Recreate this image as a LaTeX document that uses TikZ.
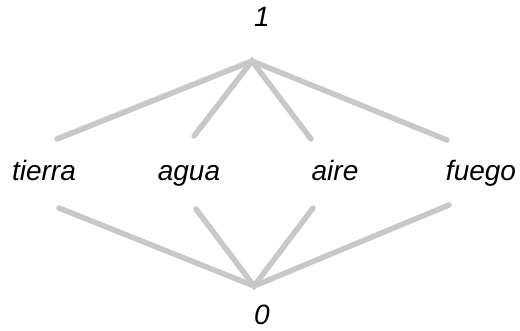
\documentclass[tikz,border=0pt]{standalone}
\usepackage{fontspec}
\setmainfont{Liberation Sans}
\begin{document}
\begin{tikzpicture}[x=1pt,y=-1pt,
  lbl/.style={font=\itshape\fontsize{28}{32}\selectfont, inner sep=0pt, text=black, anchor=base},
  edge/.style={draw={rgb,255:red,200;green,200;blue,200}, line width=5.5pt, line cap=round}]
\useasboundingbox (0,0) rectangle (520,330);
\node[lbl] (one) at (262,26) {1};
\node[lbl] (zero) at (262,324) {0};
\node[lbl] (tierra) at (44,180) {tierra};
\node[lbl] (agua) at (189,180) {agua};
\node[lbl] (aire) at (335,180) {aire};
\node[lbl] (fuego) at (481,180) {fuego};
\coordinate (top) at (252,61);
\coordinate (bot) at (254,286);
\coordinate (t1) at (57,139);
\coordinate (a1) at (194,136);
\coordinate (r1) at (311,139);
\coordinate (f1) at (447,140);
\coordinate (t0) at (59,208);
\coordinate (a0) at (196,209);
\coordinate (r0) at (313,208);
\coordinate (f0) at (449,205);
\draw[edge] (t1) -- (top) -- (f1);
\draw[edge] (a1) -- (top) -- (r1);
\draw[edge] (t0) -- (bot) -- (f0);
\draw[edge] (a0) -- (bot) -- (r0);
\end{tikzpicture}
\end{document}
